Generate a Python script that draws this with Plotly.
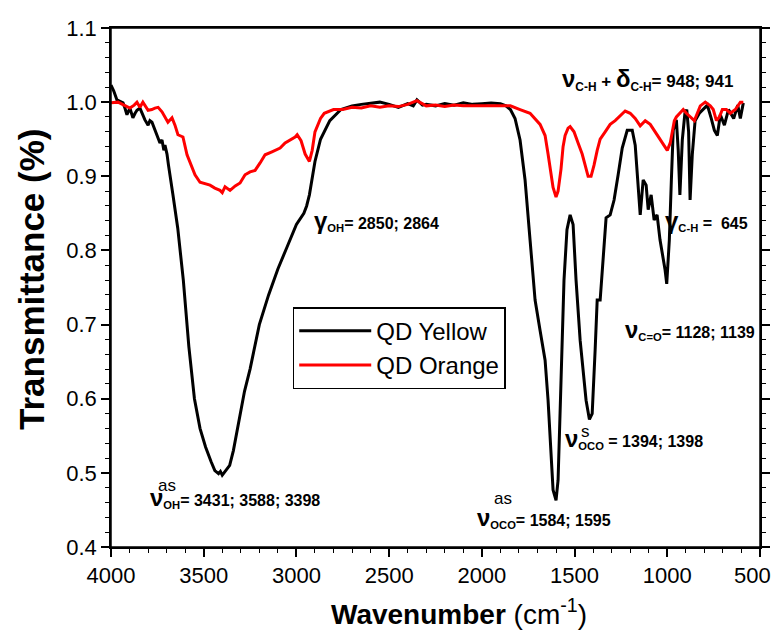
import plotly.graph_objects as go

# QD Yellow (black)
wn_yellow = [4000, 3985, 3968, 3950, 3935, 3925, 3914, 3898, 3882, 3870, 3860, 3844, 3830, 3817, 3800,
             3790, 3779, 3763, 3746, 3736, 3725, 3715, 3709, 3698, 3690, 3680, 3666, 3640, 3610, 3580,
             3550, 3520, 3490, 3460, 3440, 3420, 3410, 3400, 3380, 3360, 3340, 3310, 3280, 3250, 3200,
             3150, 3100, 3050, 3000, 2960, 2945, 2930, 2915, 2900, 2870, 2820, 2760, 2700, 2650, 2600,
             2550, 2500, 2450, 2400, 2370, 2350, 2320, 2300, 2250, 2200, 2150, 2100, 2050, 2000, 1950,
             1900, 1870, 1846, 1821, 1794, 1767, 1740, 1713, 1686, 1659, 1643, 1627, 1616, 1600, 1589,
             1573, 1557, 1541, 1524, 1508, 1492, 1470, 1454, 1438, 1420, 1405, 1389, 1378, 1362, 1346,
             1330, 1308, 1287, 1265, 1243, 1216, 1189, 1173, 1157, 1146, 1130, 1114, 1103, 1087, 1071,
             1055, 1039, 1022, 1012, 1003, 989, 978, 968, 951, 941, 932, 919, 905, 895, 885,
             877, 865, 850, 827, 805, 784, 763, 746, 730, 714, 692, 670, 642, 620, 606, 590]
t_yellow = [1.023, 1.015, 1.003, 1.001, 0.999, 0.992, 0.983, 0.992, 0.979, 0.985, 0.989, 0.992, 0.983, 0.976, 0.969,
            0.975, 0.973, 0.962, 0.952, 0.945, 0.949, 0.935, 0.942, 0.930, 0.915, 0.900, 0.875, 0.830, 0.760, 0.670,
            0.600, 0.560, 0.535, 0.515, 0.503, 0.499, 0.502, 0.497, 0.503, 0.510, 0.530, 0.570, 0.610, 0.640, 0.700,
            0.740, 0.775, 0.805, 0.835, 0.850, 0.860, 0.875, 0.900, 0.920, 0.950, 0.975, 0.990, 0.995, 0.997, 0.998,
            1.000, 0.997, 0.993, 0.998, 0.995, 1.003, 0.996, 0.997, 0.995, 0.998, 0.996, 0.999, 0.997, 0.998, 0.999,
            0.998, 0.995, 0.990, 0.978, 0.949, 0.895, 0.814, 0.733, 0.692, 0.652, 0.598, 0.530, 0.477, 0.463, 0.490,
            0.625, 0.760, 0.828, 0.848, 0.835, 0.760, 0.679, 0.639, 0.598, 0.572, 0.580, 0.666, 0.733, 0.733, 0.787,
            0.844, 0.848, 0.868, 0.902, 0.938, 0.962, 0.962, 0.942, 0.881, 0.848, 0.895, 0.888, 0.855, 0.875, 0.841,
            0.848, 0.814, 0.790, 0.774, 0.755, 0.814, 0.895, 0.962, 0.976, 0.935, 0.875, 0.949, 0.985, 0.990, 0.960,
            0.868, 0.930, 0.975, 0.985, 0.990, 0.996, 0.978, 0.962, 0.955, 0.983, 0.969, 0.990, 0.978, 0.996, 0.978, 0.999]

# QD Orange (red)
wn_orange = [4000, 3980, 3962, 3930, 3898, 3875, 3860, 3844, 3828, 3800, 3780, 3763, 3746, 3725, 3693,
             3671, 3655, 3639, 3612, 3590, 3558, 3547, 3520, 3466, 3440, 3412, 3400, 3385, 3358, 3330,
             3304, 3277, 3250, 3223, 3196, 3169, 3132, 3088, 3061, 3034, 3007, 2996, 2975, 2953, 2930,
             2915, 2900, 2870, 2850, 2800, 2750, 2700, 2650, 2600, 2550, 2500, 2450, 2400, 2350, 2300,
             2250, 2200, 2150, 2100, 2050, 2000, 1950, 1900, 1846, 1794, 1740, 1686, 1659, 1643, 1627,
             1616, 1600, 1589, 1573, 1562, 1551, 1535, 1524, 1503, 1481, 1459, 1443, 1427, 1411, 1395,
             1378, 1362, 1335, 1308, 1281, 1254, 1227, 1200, 1173, 1146, 1119, 1092, 1066, 1039, 1017,
             1000, 984, 973, 962, 951, 930, 914, 897, 876, 854, 838, 822, 795, 768, 752,
             735, 719, 703, 681, 660, 633, 606, 590]
t_orange = [0.999, 1.000, 1.000, 0.996, 0.992, 0.996, 1.000, 0.993, 1.000, 0.989, 0.990, 0.992, 0.993, 0.987, 0.973,
            0.979, 0.969, 0.956, 0.953, 0.929, 0.908, 0.902, 0.892, 0.888, 0.884, 0.881, 0.878, 0.886, 0.881, 0.887,
            0.891, 0.902, 0.906, 0.908, 0.918, 0.929, 0.933, 0.938, 0.945, 0.949, 0.953, 0.956, 0.948, 0.930, 0.920,
            0.935, 0.960, 0.978, 0.985, 0.990, 0.990, 0.993, 0.992, 0.995, 0.993, 0.995, 0.994, 0.997, 1.002, 0.995,
            0.996, 0.994, 0.996, 0.995, 0.995, 0.996, 0.995, 0.996, 0.995, 0.990, 0.985, 0.970, 0.955, 0.930, 0.900,
            0.885, 0.872, 0.880, 0.910, 0.940, 0.955, 0.965, 0.967, 0.960, 0.945, 0.930, 0.915, 0.900, 0.900, 0.915,
            0.935, 0.950, 0.960, 0.970, 0.975, 0.982, 0.988, 0.985, 0.978, 0.968, 0.975, 0.970, 0.960, 0.950, 0.940,
            0.935, 0.945, 0.960, 0.975, 0.980, 0.985, 0.990, 0.985, 0.980, 0.975, 0.985, 0.995, 1.000, 0.995, 0.990,
            0.975, 0.980, 0.990, 0.990, 0.985, 0.990, 1.000, 1.000]

x_ticks = [4000, 3500, 3000, 2500, 2000, 1500, 1000, 500]
x_ticklabels = ["4000", "3500", "3000", "2500", "2000", "1500", "1000", "500"]
y_ticks = [0.4, 0.5, 0.6, 0.7, 0.8, 0.9, 1.0, 1.1]

FONT = "Liberation Sans, Arial, sans-serif"

fig = go.Figure()
fig.add_trace(go.Scatter(x=wn_yellow, y=t_yellow, mode="lines", name="QD Yellow",
                         line=dict(color="black", width=3)))
fig.add_trace(go.Scatter(x=wn_orange, y=t_orange, mode="lines", name="QD Orange",
                         line=dict(color="#ff0000", width=3)))

NU = "<span style='font-size:24px'>ν</span>"
GA = "<span style='font-size:24px'>γ</span>"
DE = "<span style='font-size:24px'>δ</span>"

ann = [
    dict(x=1109, y=1.030, text=NU + "<sub>C-H</sub> + " + DE + "<sub>C-H</sub>= 948; 941", xanchor="center", size=17),
    dict(x=2916, y=0.841, text=GA + "<sub>OH</sub>= 2850; 2864", xanchor="left", size=16),
    dict(x=1022, y=0.841, text=GA + "<sub>C-H</sub> =  645", xanchor="left", size=16),
    dict(x=1238, y=0.693, text=NU + "<sub>C=O</sub>= 1128; 1139", xanchor="left", size=16),
    dict(x=1562, y=0.547, text=NU + "<sub>OCO</sub> = 1394; 1398", xanchor="left", size=16),
    dict(x=2037, y=0.4404, text=NU + "<sub>OCO</sub>= 1584; 1595", xanchor="left", size=16),
    dict(x=3800, y=0.467, text=NU + "<sub>OH</sub>= 3431; 3588; 3398", xanchor="left", size=16),
]
for a in ann:
    fig.add_annotation(x=a["x"], y=a["y"], text=a["text"], xanchor=a["xanchor"], yanchor="middle",
                       showarrow=False, font=dict(family=FONT, size=a["size"], color="black", weight="bold"))

sups = [
    dict(x=1440, y=0.5560, text="s"),
    dict(x=1885, y=0.4660, text="as"),
    dict(x=3698, y=0.4836, text="as"),
]
for s in sups:
    fig.add_annotation(x=s["x"], y=s["y"], text=s["text"], showarrow=False, xanchor="center",
                       yanchor="middle", font=dict(family=FONT, size=17, color="black"))

# last x tick label kept inside the page, right-aligned to its edge as in the reference
fig.add_annotation(xref="paper", yref="paper", x=1.0200, y=-0.0545, xanchor="right", yanchor="middle",
                   text=x_ticklabels[-1], showarrow=False, font=dict(family=FONT, size=22, color="black"))

# axis titles as annotations (positioned like the reference)
fig.add_annotation(xref="paper", yref="paper", x=0.536, y=-0.1252, xanchor="center", yanchor="middle",
                   text="<b>Wavenumber</b> (cm<sup>-1</sup>)", showarrow=False,
                   font=dict(family=FONT, size=28, color="black"))
fig.add_annotation(xref="paper", yref="paper", x=-0.1217, y=0.5145, xanchor="center", yanchor="middle",
                   text="<b>Transmittance (%)</b>", textangle=-90, showarrow=False,
                   font=dict(family=FONT, size=35, color="black"))

fig.add_shape(type="rect", xref="paper", yref="paper", x0=0, y0=0, x1=1, y1=1,
              line=dict(color="black", width=1.5), layer="above")

fig.update_layout(
    width=773, height=641,
    margin=dict(l=111, r=13, t=28, b=94, autoexpand=False),
    paper_bgcolor="white", plot_bgcolor="white",
    font=dict(family=FONT, color="black"),
    showlegend=True,
    legend=dict(x=0.28, y=0.462, xanchor="left", yanchor="top",
                bordercolor="black", borderwidth=1.5, bgcolor="white",
                font=dict(family=FONT, size=24, color="black"),
                itemwidth=72, tracegroupgap=0),
    xaxis=dict(range=[4000, 500], tickvals=x_ticks, ticktext=x_ticklabels[:-1] + [""],
               ticks="outside", ticklen=8, tickwidth=1.5, tickcolor="black",
               automargin=False,
               minor=dict(dtick=100, ticks="outside", ticklen=4, tickcolor="black", tickwidth=1.2),
               showline=True, linecolor="black", linewidth=1.5, mirror=True,
               showgrid=False, zeroline=False,
               tickfont=dict(family=FONT, size=22, color="black")),
    yaxis=dict(range=[0.4, 1.1], tickvals=y_ticks, ticktext=[f"{v:.1f}" for v in y_ticks],
               ticks="outside", ticklen=8, tickwidth=1.5, tickcolor="black",
               ticklabeloverflow="allow", automargin=False,
               minor=dict(dtick=0.02, ticks="outside", ticklen=4, tickcolor="black", tickwidth=1.2),
               showline=True, linecolor="black", linewidth=1.5, mirror="ticks",
               showgrid=False, zeroline=False,
               tickfont=dict(family=FONT, size=22, color="black")),
)

fig.write_html("out.html")
